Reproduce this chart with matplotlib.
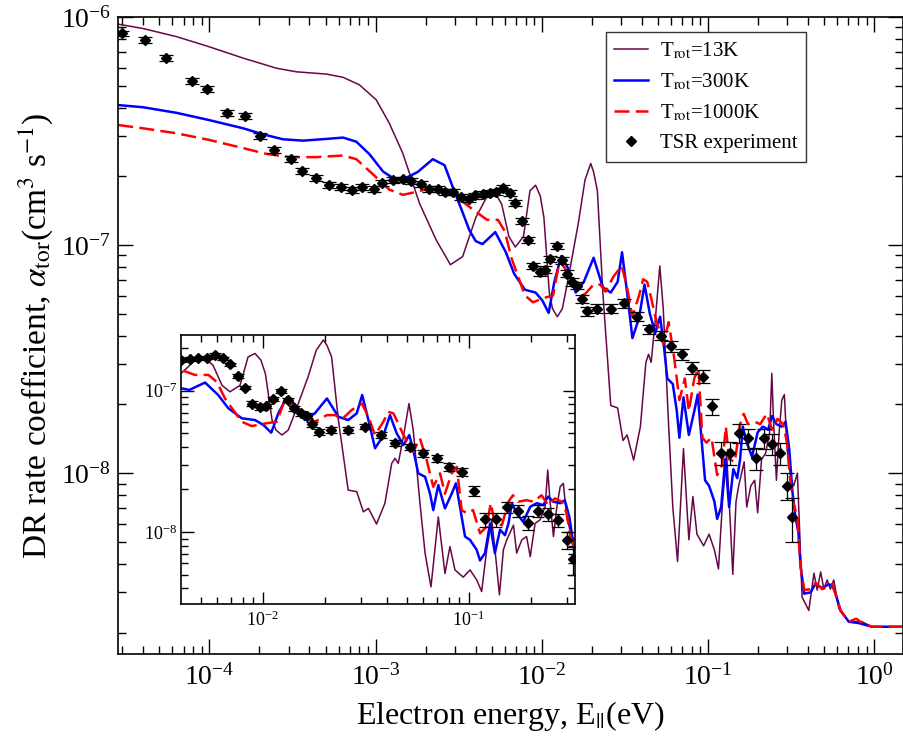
import numpy as np
import matplotlib
matplotlib.use('Agg')
import matplotlib.pyplot as plt
from matplotlib.ticker import LogLocator, NullFormatter

plt.rcParams['font.family'] = ['Liberation Serif', 'DejaVu Serif']
plt.rcParams['mathtext.fontset'] = 'stix'

# T_rot = 13 K
e_13 = [2.83e-5, 4.0e-5, 6.35e-5, 1.0e-4, 1.6e-4, 2.54e-4, 3.34e-4, 5.06e-4, 6.37e-4, 8.0e-4,
        1.01e-3, 1.21e-3, 1.46e-3, 1.84e-3, 2.32e-3, 2.82e-3, 3.34e-3, 4.01e-3, 4.70e-3, 5.25e-3,
        5.74e-3, 6.34e-3, 6.93e-3, 7.76e-3, 8.49e-3, 9.18e-3, 9.8e-3, 1.03e-2, 1.11e-2, 1.16e-2,
        1.24e-2, 1.33e-2, 1.43e-2, 1.66e-2, 1.82e-2, 1.97e-2, 2.05e-2, 2.16e-2, 2.33e-2, 2.60e-2,
        2.86e-2, 3.08e-2, 3.26e-2, 3.57e-2, 3.92e-2, 4.23e-2, 4.39e-2, 4.55e-2, 4.82e-2, 5.13e-2,
        5.38e-2, 5.80e-2, 6.14e-2, 6.56e-2, 7.12e-2, 7.67e-2, 8.11e-2, 8.58e-2, 9.41e-2, 0.1015,
        0.1093, 0.1156, 0.1223, 0.1294, 0.1358, 0.141, 0.1474, 0.153, 0.165, 0.171,
        0.181, 0.191, 0.199, 0.210, 0.222, 0.235, 0.242, 0.248, 0.258, 0.268,
        0.278, 0.288, 0.299, 0.316, 0.328, 0.345, 0.358, 0.368, 0.404, 0.434,
        0.454, 0.476, 0.498, 0.521, 0.545, 0.571, 0.612, 0.703, 0.845, 0.97,
        1.55]
rate_13 = [9.3e-7, 8.9e-7, 8.2e-7, 7.4e-7, 6.6e-7, 5.96e-7, 5.75e-7, 5.62e-7, 5.44e-7, 5.04e-7,
           4.33e-7, 3.42e-7, 2.52e-7, 1.52e-7, 1.05e-7, 8.2e-8, 8.9e-8, 1.32e-7, 1.64e-7, 1.69e-7,
           1.51e-7, 1.09e-7, 9.8e-8, 1.09e-7, 1.73e-7, 1.83e-7, 1.64e-7, 1.32e-7, 6.19e-8, 5.26e-8,
           4.85e-8, 5.26e-8, 6.9e-8, 1.25e-7, 1.93e-7, 2.28e-7, 2.09e-7, 1.73e-7, 6.19e-8, 1.98e-8,
           1.93e-8, 1.39e-8, 1.47e-8, 1.14e-8, 1.60e-8, 3.06e-8, 3.32e-8, 3.06e-8, 4.71e-8, 8.1e-8,
           5.26e-8, 1.60e-8, 7.1e-9, 4.1e-9, 1.28e-8, 5.1e-9, 7.9e-9, 5.4e-9, 4.8e-9, 5.4e-9,
           4.6e-9, 3.8e-9, 7.5e-9, 1.22e-8, 6.3e-9, 3.6e-9, 7.5e-9, 8.8e-9, 1.12e-8, 7.1e-9,
           8.8e-9, 9.3e-9, 6.7e-9, 1.15e-8, 1.22e-8, 1.51e-8, 2.74e-8, 1.68e-8, 9.3e-9, 1.51e-8,
           2.09e-8, 2.21e-8, 1.28e-8, 9.3e-9, 8.8e-9, 1.0e-8, 5.0e-9, 2.86e-9, 2.5e-9, 3.64e-9,
           3.07e-9, 3.69e-9, 3.1e-9, 3.4e-9, 3.1e-9, 3.4e-9, 2.55e-9, 2.23e-9, 2.23e-9, 2.12e-9,
           2.12e-9]

# T_rot = 300 K
e_300 = [2.83e-5, 4.0e-5, 6.35e-5, 1.0e-4, 1.6e-4, 2.1e-4, 2.77e-4, 3.66e-4, 5.06e-4, 6.37e-4,
         7.66e-4, 9.2e-4, 1.11e-3, 1.27e-3, 1.46e-3, 1.79e-3, 2.21e-3, 2.6e-3, 2.91e-3, 3.29e-3,
         3.67e-3, 4.01e-3, 4.4e-3, 5.25e-3, 6.08e-3, 6.81e-3, 7.91e-3, 9.18e-3, 1.01e-2, 1.10e-2,
         1.19e-2, 1.31e-2, 1.44e-2, 1.60e-2, 1.79e-2, 2.05e-2, 2.33e-2, 2.60e-2, 2.86e-2, 3.04e-2,
         3.26e-2, 3.51e-2, 3.85e-2, 4.15e-2, 4.47e-2, 4.82e-2, 5.15e-2, 5.43e-2, 5.69e-2, 6.14e-2,
         6.49e-2, 6.73e-2, 7.12e-2, 7.67e-2, 8.27e-2, 8.67e-2, 9.07e-2, 9.6e-2, 0.1015, 0.1093,
         0.1135, 0.120, 0.127, 0.134, 0.142, 0.150, 0.156, 0.162, 0.171, 0.184,
         0.199, 0.214, 0.230, 0.243, 0.258, 0.278, 0.293, 0.308, 0.322, 0.336,
         0.350, 0.360, 0.378, 0.414, 0.444, 0.486, 0.530, 0.559, 0.585, 0.627,
         0.703, 0.807, 0.97, 1.55]
rate_300 = [4.11e-7, 4.02e-7, 3.80e-7, 3.53e-7, 3.25e-7, 3.06e-7, 2.91e-7, 2.87e-7, 2.92e-7, 2.96e-7,
            2.84e-7, 2.5e-7, 2.10e-7, 1.97e-7, 1.94e-7, 2.09e-7, 2.38e-7, 2.24e-7, 1.80e-7, 1.43e-7,
            1.16e-7, 1.04e-7, 1.01e-7, 1.14e-7, 9.3e-8, 7.5e-8, 6.37e-8, 6.19e-8, 5.7e-8, 5.04e-8,
            6.9e-8, 8.95e-8, 7.9e-8, 6.19e-8, 6.9e-8, 8.8e-8, 6.53e-8, 6.19e-8, 6.9e-8, 9.3e-8,
            6.19e-8, 3.91e-8, 4.8e-8, 6.71e-8, 4.99e-8, 4.12e-8, 4.85e-8, 3.6e-8, 2.6e-8, 2.46e-8,
            1.87e-8, 1.43e-8, 2.15e-8, 1.47e-8, 1.87e-8, 2.21e-8, 1.51e-8, 9.3e-9, 8.8e-9, 7.5e-9,
            6.3e-9, 7.1e-9, 1.15e-8, 7.1e-9, 1.04e-8, 9.5e-9, 1.15e-8, 1.60e-8, 1.36e-8, 1.18e-8,
            1.51e-8, 1.60e-8, 1.55e-8, 1.78e-8, 1.64e-8, 1.60e-8, 1.68e-8, 1.28e-8, 8.3e-9, 6.4e-9,
            5.5e-9, 4.0e-9, 2.96e-9, 3.0e-9, 3.28e-9, 3.13e-9, 3.25e-9, 3.23e-9, 2.96e-9, 2.5e-9,
            2.23e-9, 2.2e-9, 2.12e-9, 2.12e-9]

# T_rot = 1000 K
e_1000 = [2.83e-5, 4.0e-5, 6.35e-5, 1.0e-4, 1.6e-4, 2.21e-4, 3.04e-4, 4.40e-4, 6.37e-4, 7.66e-4,
          9.6e-4, 1.21e-3, 1.46e-3, 1.75e-3, 2.11e-3, 2.66e-3, 3.34e-3, 4.01e-3, 4.69e-3, 5.45e-3,
          5.99e-3, 6.56e-3, 7.2e-3, 7.91e-3, 8.85e-3, 1.03e-2, 1.17e-2, 1.28e-2, 1.41e-2, 1.57e-2,
          1.79e-2, 2.05e-2, 2.25e-2, 2.42e-2, 2.70e-2, 3.03e-2, 3.26e-2, 3.51e-2, 3.85e-2, 4.07e-2,
          4.31e-2, 4.55e-2, 4.82e-2, 5.09e-2, 5.38e-2, 5.80e-2, 6.25e-2, 6.73e-2, 7.26e-2, 7.67e-2,
          8.27e-2, 8.75e-2, 9.25e-2, 9.78e-2, 0.105, 0.1135, 0.122, 0.128, 0.134, 0.145,
          0.156, 0.164, 0.174, 0.191, 0.206, 0.226, 0.243, 0.262, 0.283, 0.299,
          0.310, 0.325, 0.345, 0.360, 0.380, 0.414, 0.444, 0.486, 0.530, 0.559,
          0.585, 0.627, 0.703, 0.78, 0.85, 0.97, 1.55]
rate_1000 = [3.36e-7, 3.25e-7, 3.09e-7, 2.89e-7, 2.66e-7, 2.51e-7, 2.43e-7, 2.43e-7, 2.47e-7, 2.38e-7,
             2.05e-7, 1.75e-7, 1.66e-7, 1.71e-7, 1.77e-7, 1.71e-7, 1.55e-7, 1.40e-7, 1.29e-7, 1.29e-7,
             1.15e-7, 8.8e-8, 7.28e-8, 6.02e-8, 5.61e-8, 5.86e-8, 6.02e-8, 8.57e-8, 7.69e-8, 6.71e-8,
             6.02e-8, 6.71e-8, 6.71e-8, 6.25e-8, 7.28e-8, 8.1e-8, 6.53e-8, 4.85e-8, 6.02e-8, 7.08e-8,
             6.9e-8, 5.86e-8, 4.85e-8, 4.23e-8, 3.69e-8, 4.59e-8, 3.23e-8, 2.09e-8, 2.6e-8, 1.87e-8,
             2.6e-8, 2.89e-8, 1.43e-8, 1.36e-8, 1.43e-8, 9.8e-9, 1.09e-8, 1.60e-8, 1.15e-8, 1.12e-8,
             1.64e-8, 1.82e-8, 1.64e-8, 1.68e-8, 1.64e-8, 1.82e-8, 1.55e-8, 1.73e-8, 1.64e-8, 1.36e-8,
             9.8e-9, 7.5e-9, 6.4e-9, 3.88e-9, 3.07e-9, 3.1e-9, 3.3e-9, 3.1e-9, 3.2e-9, 3.25e-9,
             2.95e-9, 2.5e-9, 2.23e-9, 2.3e-9, 2.2e-9, 2.12e-9, 2.12e-9]

# TSR experiment (rates and errors in units of 1e-9 cm^3 s^-1)
e_exp = [2.97e-5, 4.10e-5, 5.46e-5, 7.82e-5, 9.62e-5, 1.27e-4, 1.63e-4, 2.01e-4, 2.44e-4, 3.08e-4,
         3.63e-4, 4.40e-4, 5.25e-4, 6.17e-4, 7.25e-4, 8.28e-4, 9.77e-4, 1.10e-3, 1.27e-3, 1.46e-3,
         1.64e-3, 1.88e-3, 2.11e-3, 2.37e-3, 2.63e-3, 2.94e-3, 3.27e-3, 3.63e-3, 3.99e-3, 4.43e-3,
         4.87e-3, 5.34e-3, 5.87e-3, 6.44e-3, 6.93e-3, 7.62e-3, 8.21e-3, 8.91e-3, 9.71e-3, 1.04e-2,
         1.12e-2, 1.23e-2, 1.33e-2, 1.42e-2, 1.53e-2, 1.64e-2, 1.74e-2, 1.88e-2, 2.14e-2, 2.60e-2,
         3.14e-2, 3.75e-2, 4.39e-2, 5.19e-2, 6.02e-2, 7.0e-2, 8.05e-2, 9.27e-2, 0.106, 0.1205,
         0.1357, 0.1537, 0.174, 0.1946, 0.218, 0.243, 0.270, 0.299, 0.321]
rate_exp = [847, 793, 659, 526, 482, 380, 368, 301, 261, 238,
            212, 197, 183, 180, 175, 179, 177, 188, 193, 194,
            191, 185, 177, 177, 171, 171, 162, 159, 165, 167,
            169, 171, 178, 169, 153, 127, 105, 81, 76, 78,
            87, 99, 85.7, 75, 69, 66.4, 58, 51.2, 52.6, 52.6,
            55.5, 48.5, 42.7, 40.1, 36, 33.2, 28.9, 26.5, 19.6, 12.3,
            12.3, 15, 14.2, 11.6, 14.2, 13.4, 12.2, 8.8, 6.4]
err_exp = [25, 24, 20, 16, 14, 11, 11, 9, 8, 7,
           6.4, 6, 5.5, 5.4, 5.3, 5.4, 5.3, 5.6, 5.8, 5.8,
           5.7, 5.6, 5.3, 5.3, 5.1, 5.1, 4.9, 4.8, 5, 5,
           5.1, 5.1, 5.3, 5.1, 4.6, 3.8, 3.2, 2.8, 2.7, 2.7,
           2.9, 3.2, 2.9, 2.7, 2.6, 2.5, 2.4, 2.3, 2.3, 2.3,
           2.4, 2.2, 2.0, 1.9, 1.9, 1.8, 1.7, 1.7, 1.6, 1.4,
           1.4, 1.4, 1.4, 1.3, 1.4, 1.4, 1.3, 1.2, 1.4]
unit = 1e-9

labels = [r'T$_{\rm rot}$=13K', r'T$_{\rm rot}$=300K', r'T$_{\rm rot}$=1000K', 'TSR experiment']
c13, c300, c1000 = '#670748', '#0000ff', '#ff0000'


def style_log_axes(ax, major_len, minor_len, labelsize, padx, pady):
    ax.set_xscale('log')
    ax.set_yscale('log')
    for axis in (ax.xaxis, ax.yaxis):
        axis.set_major_locator(LogLocator(base=10, numticks=30))
        axis.set_minor_locator(LogLocator(base=10, subs=np.arange(2, 10), numticks=30))
        axis.set_minor_formatter(NullFormatter())
    ax.tick_params(which='both', direction='in', top=True, right=True, width=1.0)
    ax.tick_params(which='major', length=major_len, labelsize=labelsize)
    ax.tick_params(which='minor', length=minor_len)
    ax.tick_params(axis='x', pad=padx)
    ax.tick_params(axis='y', pad=pady)
    for s in ax.spines.values():
        s.set_linewidth(1.2)


def draw_data(ax, ms, cap):
    ax.plot(e_13, rate_13, color=c13, lw=1.1, label=labels[0])
    ax.plot(e_300, rate_300, color=c300, lw=1.8, label=labels[1])
    ax.plot(e_1000, rate_1000, color=c1000, lw=1.8, dashes=(6, 2.5), label=labels[2])
    y = np.array(rate_exp) * unit
    ax.errorbar(e_exp, y, yerr=np.array(err_exp) * unit, fmt='none', ecolor='k',
                elinewidth=0.9, capsize=cap, capthick=0.9, zorder=4)
    ax.plot(e_exp, y, 'D', color='k', ms=ms, ls='none', zorder=5, label=labels[3])


fig = plt.figure(figsize=(9.04, 7.36), dpi=100)
ax = fig.add_axes([0.1305, 0.1114, 0.8684, 0.8655])
style_log_axes(ax, 11, 5.5, 20, 7, 5)
draw_data(ax, 5.5, 5)
ax.set_xlim(2.82e-5, 1.49)
ax.set_ylim(1.61e-9, 1e-6)
ax.set_xlabel(r'Electron energy, E$_{||}$(eV)', fontsize=23, labelpad=6)
ax.set_ylabel(r'DR rate coefficient, $\alpha_{\rm tor}$(cm$^{3}$ s$^{-1}$)', fontsize=24, labelpad=4)

leg = ax.legend(loc='upper left', bbox_to_anchor=(0.6217, 0.9765), borderaxespad=0,
                fontsize=15, frameon=True, fancybox=False, edgecolor='k',
                handlelength=1.6, handletextpad=0.6, borderpad=0.4, labelspacing=0.5)
leg.get_frame().set_linewidth(1.0)

axin = fig.add_axes([0.2002, 0.1793, 0.4358, 0.3655])
style_log_axes(axin, 9, 5, 13, 5, 3)
draw_data(axin, 5, 4)
axin.set_xlim(4.01e-3, 0.328)
axin.set_ylim(3.1e-9, 2.47e-7)

fig.savefig('out.png', dpi=100)
